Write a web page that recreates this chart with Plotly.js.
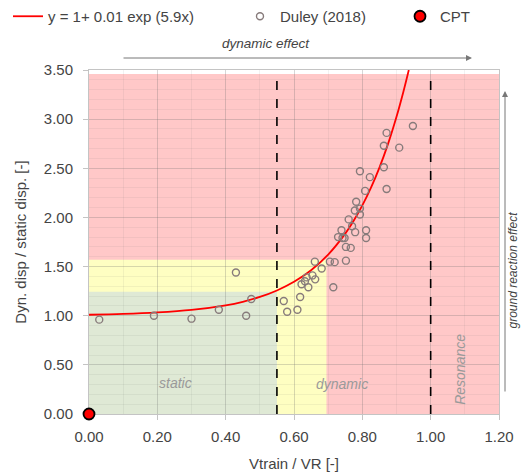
<!DOCTYPE html>
<html>
<head>
<meta charset="utf-8">
<script src="https://cdn.plot.ly/plotly-3.0.1.min.js"></script>
<style>html,body{margin:0;padding:0;background:#fff;}#chart{width:521px;height:476px;}</style>
</head>
<body>
<div id="chart"></div>
<script>
// Fitted curve y = 1 + 0.01 exp(5.9x)
const fitX = [0, 0.1, 0.2, 0.3, 0.4, 0.45, 0.5, 0.55, 0.6, 0.65, 0.7, 0.75, 0.775, 0.8, 0.825, 0.85, 0.875, 0.9, 0.92, 0.936];
const fitY = [1.01, 1.018, 1.033, 1.059, 1.106, 1.142, 1.191, 1.257, 1.345, 1.463, 1.622, 1.835, 1.968, 2.122, 2.30, 2.507, 2.746, 3.024, 3.277, 3.5];

// Duley (2018) measurements
const duleyX = [0.03, 0.19, 0.30, 0.38, 0.43, 0.46, 0.475, 0.57, 0.58, 0.61, 0.618, 0.622, 0.642, 0.632, 0.637, 0.654, 0.662, 0.681, 0.661, 0.705, 0.719, 0.715, 0.752, 0.729, 0.742, 0.748, 0.739, 0.752, 0.766, 0.760, 0.770, 0.779, 0.778, 0.793, 0.793, 0.782, 0.811, 0.811, 0.808, 0.793, 0.822, 0.863, 0.871, 0.863, 0.908, 0.871, 0.948];
const duleyY = [0.96, 1.00, 0.97, 1.06, 1.44, 1.00, 1.17, 1.15, 1.04, 1.06, 1.19, 1.32, 1.29, 1.35, 1.39, 1.41, 1.37, 1.48, 1.55, 1.55, 1.545, 1.29, 1.56, 1.80, 1.79, 1.79, 1.87, 1.70, 1.69, 1.98, 1.91, 1.85, 2.07, 2.03, 2.09, 2.16, 1.87, 1.79, 2.27, 2.47, 2.41, 2.51, 2.29, 2.73, 2.71, 2.86, 2.93];

// CPT point
const cptX = [0];
const cptY = [0];

// Zone limits
const zoneStaticX = 0.55, zoneStaticY = 1.245;
const zoneDynX = 0.695, zoneDynY = 1.57;
const resonanceX = 1.0;
const zoneTop = 3.46;

const xTicks = [0, 0.2, 0.4, 0.6, 0.8, 1.0, 1.2];
const yTicks = [0, 0.5, 1.0, 1.5, 2.0, 2.5, 3.0, 3.5];

const FONT = 'Liberation Sans, Arial, sans-serif';
const TXT = '#444';

const traces = [
  {x: fitX, y: fitY, type: 'scatter', mode: 'lines', name: 'y = 1+ 0.01 exp (5.9x)',
   line: {color: '#ff0000', width: 1.8, shape: 'spline'}, legend: 'legend'},
  {x: duleyX, y: duleyY, type: 'scatter', mode: 'markers', name: 'Duley (2018)',
   marker: {symbol: 'circle-open', size: 7, color: '#877b7b', line: {width: 1.4, color: '#877b7b'}}, legend: 'legend2'},
  {x: cptX, y: cptY, type: 'scatter', mode: 'markers', name: 'CPT', cliponaxis: false,
   marker: {symbol: 'circle', size: 11, color: '#ff0000', line: {width: 1.8, color: '#000'}}, legend: 'legend3'}
];

const W = 521, H = 476;
function legendAt(px, py) {
  return {x: px / W, y: 1 - py / H, xref: 'container', yref: 'container', xanchor: 'left', yanchor: 'top',
    orientation: 'h', bgcolor: 'rgba(0,0,0,0)', font: {family: FONT, size: 15, color: TXT}, borderwidth: 0};
}

const layout = {
  width: W, height: H,
  margin: {l: 89, r: 22, t: 70, b: 62},
  paper_bgcolor: '#fff', plot_bgcolor: '#fff',
  font: {family: FONT, size: 15, color: TXT},
  showlegend: true,
  legend: legendAt(8, 0),
  legend2: legendAt(240, 0),
  legend3: legendAt(400, 0),
  xaxis: {
    range: [0, 1.2], tickvals: xTicks, tickformat: '.2f', layer: 'below traces',
    showgrid: true, gridcolor: 'rgba(110,110,110,0.2)', gridwidth: 1,
    minor: {dtick: 0.1, showgrid: true, gridcolor: 'rgba(110,110,110,0.09)', gridwidth: 1},
    showline: true, linecolor: '#c4c4c4', linewidth: 1, mirror: true,
    ticks: 'outside', ticklen: 5, tickcolor: '#c4c4c4', ticklabelstandoff: 4,
    zeroline: false, tickfont: {size: 15, color: TXT},
    title: {text: 'Vtrain / VR [-]', font: {size: 15, color: TXT}, standoff: 14}
  },
  yaxis: {
    range: [0, 3.5], tickvals: yTicks, tickformat: '.2f', layer: 'below traces',
    showgrid: true, gridcolor: 'rgba(110,110,110,0.2)', gridwidth: 1,
    minor: {dtick: 0.1, showgrid: true, gridcolor: 'rgba(110,110,110,0.09)', gridwidth: 1},
    showline: true, linecolor: '#c4c4c4', linewidth: 1, mirror: true,
    ticks: 'outside', ticklen: 5, tickcolor: '#c4c4c4', ticklabelstandoff: 7,
    zeroline: false, tickfont: {size: 15, color: TXT},
    title: {text: 'Dyn. disp / static disp. [-]', font: {size: 15, color: TXT}, standoff: 13}
  },
  shapes: [
    {type: 'rect', xref: 'x', yref: 'y', x0: 0, x1: 1.2, y0: 0, y1: zoneTop, fillcolor: '#ffc8c8', line: {width: 0}, layer: 'below'},
    {type: 'rect', xref: 'x', yref: 'y', x0: 0, x1: zoneDynX, y0: 0, y1: zoneDynY, fillcolor: '#fefec2', line: {width: 0}, layer: 'below'},
    {type: 'rect', xref: 'x', yref: 'y', x0: 0, x1: zoneStaticX, y0: 0, y1: zoneStaticY, fillcolor: '#dfe9d5', line: {width: 0}, layer: 'below'},
    {type: 'line', xref: 'x', yref: 'y', x0: zoneStaticX, x1: zoneStaticX, y0: 0, y1: zoneTop, line: {color: '#000', width: 1.6, dash: 'dash'}, layer: 'above'},
    {type: 'line', xref: 'x', yref: 'y', x0: resonanceX, x1: resonanceX, y0: 0, y1: zoneTop, line: {color: '#000', width: 1.6, dash: 'dash'}, layer: 'above'}
  ],
  annotations: [
    {xref: 'x', yref: 'y', x: 0.254, y: 0.32, text: 'static', showarrow: false, font: {size: 14, color: '#9a9a9a', style: 'italic'}},
    {xref: 'x', yref: 'y', x: 0.74, y: 0.31, text: 'dynamic', showarrow: false, font: {size: 14, color: '#9a9a9a', style: 'italic'}},
    {xref: 'x', yref: 'y', x: 1.086, y: 0.45, text: 'Resonance', textangle: -90, showarrow: false, font: {size: 14, color: '#9a9a9a', style: 'italic'}},
    {xref: 'paper', yref: 'paper', x: (266 - 89) / 410, y: (414 - 43) / 344, xanchor: 'center', yanchor: 'middle',
     text: 'dynamic effect', showarrow: false, font: {size: 13.5, color: TXT, style: 'italic'}},
    {xref: 'paper', yref: 'paper', x: (472 - 89) / 410, y: (414 - 58) / 344, ax: -350, ay: 0, text: '', showarrow: true,
     arrowhead: 2, arrowsize: 1.2, arrowwidth: 1, arrowcolor: '#777'},
    {xref: 'paper', yref: 'paper', x: (505 - 89) / 410, y: (414 - 91) / 344, ax: 0, ay: 302, text: '', showarrow: true,
     arrowhead: 2, arrowsize: 1.2, arrowwidth: 1, arrowcolor: '#777'},
    {xref: 'paper', yref: 'paper', x: (512.5 - 89) / 410, y: (414 - 270) / 344, xanchor: 'center', yanchor: 'middle', borderpad: 0,
     text: 'ground reaction effect', textangle: -90, showarrow: false, font: {size: 12, color: TXT, style: 'italic'}}
  ]
};

Plotly.newPlot('chart', traces, layout, {displayModeBar: false, responsive: false});
</script>
</body>
</html>
